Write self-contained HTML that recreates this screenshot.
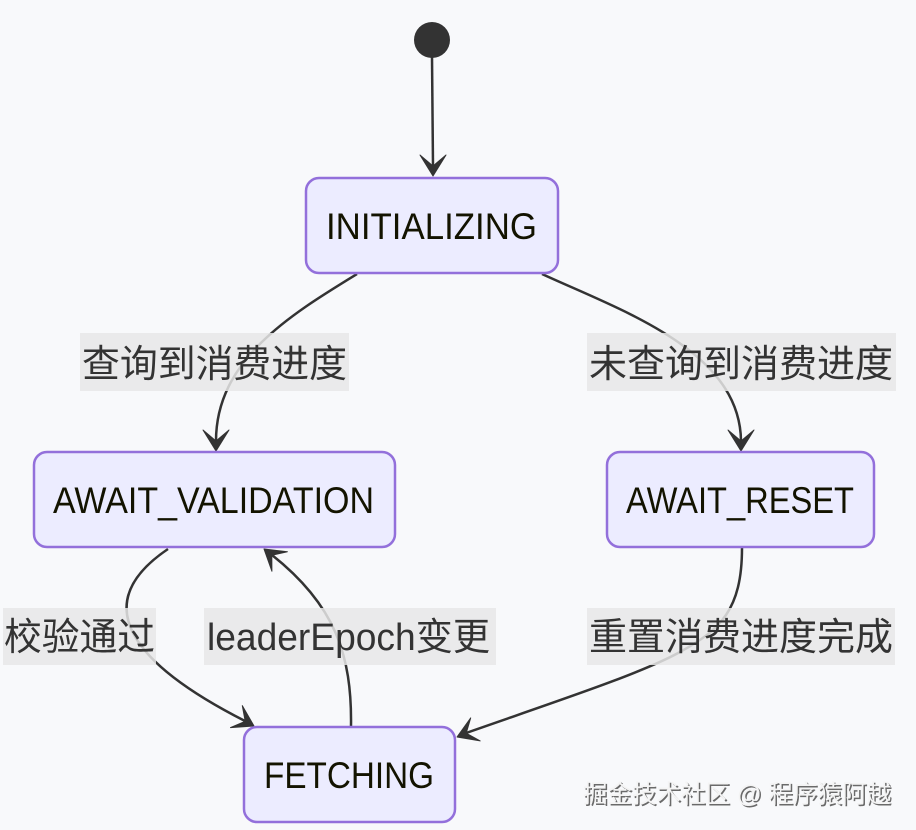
<!DOCTYPE html>
<html><head><meta charset="utf-8"><style>
html,body{margin:0;padding:0;background:#f8f9fb;}
svg{display:block;}
.node{fill:#ECECFF;stroke:#9370DB;stroke-width:2.5;}
.edge{fill:none;stroke:#333;stroke-width:2.5;}
.ah{fill:#333;stroke:#333;stroke-width:1;stroke-linejoin:round;}
.lbg{fill:rgba(232,232,232,0.85);}
.lt{font-family:"Liberation Sans","Noto Sans CJK SC",sans-serif;font-size:38px;fill:#333;}
.nt{font-family:"Liberation Sans","DejaVu Sans",sans-serif;font-size:37px;fill:#131300;}
.wm{font-family:"Liberation Sans","Noto Sans CJK SC",sans-serif;font-size:25px;}
</style></head><body>
<svg width="916" height="830" viewBox="0 0 916 830" xmlns="http://www.w3.org/2000/svg">
<rect x="0" y="0" width="916" height="830" fill="#f8f9fb"/>
<!-- start -->
<circle cx="432" cy="40" r="18" fill="#333"/>
<path class="edge" d="M432,57 L433,166"/>
<polygon class="ah" points="433,176 420,155 433,166 446,155"/>

<!-- edges -->
<path class="edge" d="M357,274 C290,315 216,360 216,441"/>
<polygon class="ah" points="216,451 203,430 216,441 229,430"/>

<path class="edge" d="M542,274 C620,310 740,350 741,441"/>
<polygon class="ah" points="741,451 728,430 741,441 754,430"/>

<path class="edge" d="M168,549 C85,605 135,665 245,721"/>
<polygon class="ah" points="254,726 230.5,727.6 245.2,721.3 242.3,705.6"/>

<path class="edge" d="M351,726 C352,655 335,605 272,555"/>
<polygon class="ah" points="264,549 287.4,551.7 271.8,555.2 271.9,571.2"/>

<path class="edge" d="M742,548 C742,610 720,630 680,652 S560,700 466,733"/>
<polygon class="ah" points="457,737 470.7,717.9 466.2,733.2 480.2,740.9"/>

<!-- nodes -->
<rect class="node" x="306" y="178" width="252" height="95" rx="13" ry="13"/>
<text class="nt" x="326" y="239" textLength="211" lengthAdjust="spacingAndGlyphs">INITIALIZING</text>

<rect class="node" x="34" y="452" width="361" height="95" rx="13" ry="13"/>
<text class="nt" x="53" y="513" textLength="321" lengthAdjust="spacingAndGlyphs">AWAIT_VALIDATION</text>

<rect class="node" x="607" y="452" width="267" height="95" rx="13" ry="13"/>
<text class="nt" x="626" y="513" textLength="228" lengthAdjust="spacingAndGlyphs">AWAIT_RESET</text>

<rect class="node" x="244" y="727" width="211" height="95" rx="13" ry="13"/>
<text class="nt" x="264" y="788" textLength="170" lengthAdjust="spacingAndGlyphs">FETCHING</text>

<!-- labels -->
<rect class="lbg" x="80" y="333" width="269" height="58"/>
<text class="lt" x="82" y="377" textLength="265" lengthAdjust="spacingAndGlyphs">查询到消费进度</text>

<rect class="lbg" x="587" y="333" width="309" height="58"/>
<text class="lt" x="589" y="377" textLength="304" lengthAdjust="spacingAndGlyphs">未查询到消费进度</text>

<rect class="lbg" x="3" y="608" width="153" height="57"/>
<text class="lt" x="4" y="650" textLength="151" lengthAdjust="spacingAndGlyphs">校验通过</text>

<rect class="lbg" x="204" y="608" width="292" height="57"/>
<text class="lt" x="207" y="650" textLength="283" lengthAdjust="spacingAndGlyphs">leaderEpoch变更</text>

<rect class="lbg" x="587" y="608" width="308" height="57"/>
<text class="lt" x="589" y="650" textLength="304" lengthAdjust="spacingAndGlyphs">重置消费进度完成</text>

<!-- watermark -->
<text class="wm" x="584.5" y="804" fill="#6a6a6a" textLength="308" lengthAdjust="spacingAndGlyphs">掘金技术社区 @ 程序猿阿越</text>
<text class="wm" x="583" y="802.5" fill="#f4f4f4" textLength="308" lengthAdjust="spacingAndGlyphs">掘金技术社区 @ 程序猿阿越</text>
</svg>
</body></html>
